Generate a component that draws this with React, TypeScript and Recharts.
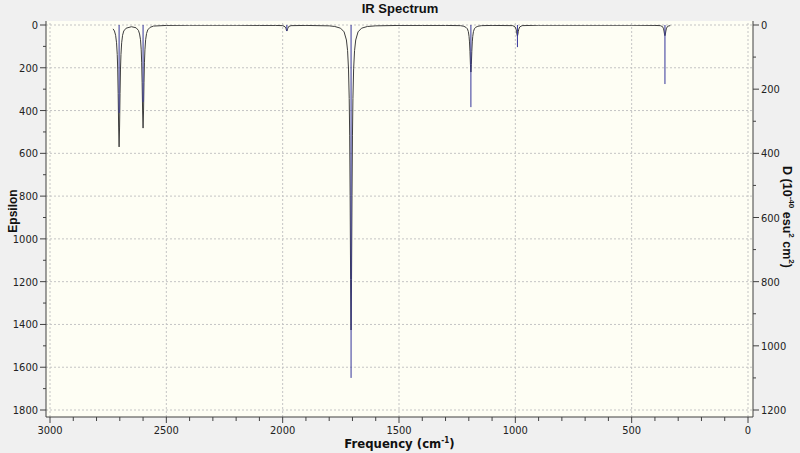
import {
  ComposedChart,
  CartesianGrid,
  Line,
  ReferenceLine,
  XAxis,
  YAxis,
} from "recharts";

// Spectrum curve (Epsilon, left axis)
const curveFreq = [
  2729, 2723, 2718, 2714, 2711, 2709, 2707, 2705, 2703, 2701, 2699, 2697, 2695, 2692, 2688, 2683, 2673,
  2650, 2630, 2620, 2615, 2611, 2608, 2606, 2604, 2602, 2600, 2598, 2596, 2594, 2592, 2589, 2585, 2580,
  2570, 2555, 2500, 2400, 2300, 2200, 2100, 2030, 2000, 1990, 1986, 1984, 1982, 1980, 1978, 1974, 1964,
  1900, 1800, 1776, 1751, 1736, 1726, 1721, 1717, 1714, 1712, 1710, 1708, 1706, 1704, 1702, 1700, 1698,
  1695, 1691, 1686, 1676, 1661, 1636, 1600, 1500, 1400, 1300, 1236, 1221, 1211, 1206, 1202, 1199, 1197,
  1195, 1193, 1191, 1189, 1187, 1185, 1183, 1180, 1176, 1171, 1161, 1146, 1100, 1011, 1001, 997, 995,
  993, 991, 989, 987, 985, 981, 971, 900, 700, 500, 400, 377, 367, 363, 361, 359, 357, 355, 353, 351,
  347, 340, 334,
];
const curveEps = [
  18, 28, 48, 83, 138, 206, 320, 477, 570, 477, 320, 206, 138, 83, 48, 28, 15,
  8, 13, 25, 42, 69, 116, 174, 270, 402, 482, 402, 270, 174, 116, 69, 40, 23,
  11, 5, 2, 1, 1, 1, 2, 2, 3, 8, 16, 23, 28, 23, 16, 7, 3,
  2, 4, 7, 15, 32, 70, 120, 206, 344, 515, 798, 1190, 1426, 1190, 798, 515, 343,
  205, 120, 70, 32, 15, 7, 4, 2, 2, 2, 3, 6, 12, 18, 31, 53, 79,
  123, 184, 220, 184, 123, 79, 53, 31, 18, 11, 6, 3, 2, 3, 9, 19, 29,
  43, 52, 43, 29, 19, 9, 3, 1, 1, 1, 2, 3, 8, 18, 28, 42, 50, 42, 28, 18,
  8, 4, 3,
];

// Stick intensities (D, right axis)
const stickFreq = [2703, 2600, 1982, 1706, 1191, 991, 357];
const stickD = [274, 240, 19, 1100, 256, 69, 184];

const freqTicks = [
  0, 100, 200, 300, 400, 500, 600, 700, 800, 900, 1000, 1100, 1200, 1300, 1400, 1500,
  1600, 1700, 1800, 1900, 2000, 2100, 2200, 2300, 2400, 2500, 2600, 2700, 2800, 2900, 3000,
];
const freqMajor = [0, 500, 1000, 1500, 2000, 2500, 3000];
const epsTicks = [
  0, 100, 200, 300, 400, 500, 600, 700, 800, 900, 1000, 1100, 1200, 1300, 1400, 1500, 1600, 1700, 1800,
];
const epsMajor = [0, 200, 400, 600, 800, 1000, 1200, 1400, 1600, 1800];
const dTicks = [0, 100, 200, 300, 400, 500, 600, 700, 800, 900, 1000, 1100, 1200];

const curveData = curveFreq.map((f, i) => ({ f, eps: curveEps[i] }));
const stickData = stickFreq.flatMap((f, i) => [
  { f, d: 0 },
  { f, d: stickD[i] },
  { f, d: null },
]);

const AXIS = "#404040";
const TICK_FONT = "'Liberation Sans Narrow', 'DejaVu Sans Condensed', Arial, sans-serif";
const GRID = "#c4c4c4";

function XTick({ x, y, payload }: any) {
  const major = payload.value % 500 === 0;
  return (
    <g>
      <line x1={x} x2={x} y1={y} y2={y + (major ? 6 : 4)} stroke={AXIS} />
      {major && (
        <text x={x} y={y + 17} textAnchor="middle" fontSize={11} fontFamily={TICK_FONT} fill="#222">
          {payload.value}
        </text>
      )}
    </g>
  );
}

function LeftTick({ x, y, payload }: any) {
  const major = payload.value % 200 === 0;
  return (
    <g>
      <line x1={x - (major ? 6 : 3)} x2={x} y1={y} y2={y} stroke={AXIS} />
      {major && (
        <text x={x - 8} y={y + 4} textAnchor="end" fontSize={11} fontFamily={TICK_FONT} fill="#222">
          {payload.value}
        </text>
      )}
    </g>
  );
}

function RightTick({ x, y, payload }: any) {
  const major = payload.value % 200 === 0;
  return (
    <g>
      <line x1={x} x2={x + (major ? 6 : 3)} y1={y} y2={y} stroke={AXIS} />
      {major && (
        <text x={x + 8} y={y + 4} textAnchor="start" fontSize={11} fontFamily={TICK_FONT} fill="#222">
          {payload.value}
        </text>
      )}
    </g>
  );
}

function FreqTitle({ viewBox }: any) {
  const cx = viewBox.x + viewBox.width / 2;
  const cy = viewBox.y + 31;
  return (
    <text x={cx} y={cy} textAnchor="middle" fontSize={13} fontWeight="bold" fontFamily={TICK_FONT} fill="#111">
      Frequency (cm<tspan dy={-5} fontSize={8}>-1</tspan>
      <tspan dy={5}>)</tspan>
    </text>
  );
}

function EpsTitle({ viewBox }: any) {
  const cx = viewBox.x + 13;
  const cy = viewBox.y + viewBox.height / 2 - 8;
  return (
    <text
      x={cx}
      y={cy}
      transform={`rotate(-90, ${cx}, ${cy})`}
      textAnchor="middle"
      dominantBaseline="central"
      fontSize={12}
      fontWeight="bold"
      fontFamily="'Liberation Sans', Arial, sans-serif"
      fill="#111"
    >
      Epsilon
    </text>
  );
}

function DTitle({ viewBox }: any) {
  const cx = viewBox.x + 34;
  const cy = viewBox.y + viewBox.height / 2 - 2;
  return (
    <text
      x={cx}
      y={cy}
      transform={`rotate(90, ${cx}, ${cy})`}
      textAnchor="middle"
      dominantBaseline="central"
      fontSize={12.5}
      fontWeight="bold"
      fontFamily="'Liberation Sans', Arial, sans-serif"
      fill="#111"
    >
      D (10<tspan dy={-5} fontSize={8}>-40</tspan>
      <tspan dy={5}> esu</tspan>
      <tspan dy={-5} fontSize={8}>2</tspan>
      <tspan dy={5}> cm</tspan>
      <tspan dy={-5} fontSize={8}>2</tspan>
      <tspan dy={5}>)</tspan>
    </text>
  );
}

export default function App() {
  return (
    <div style={{ position: "relative", width: 800, height: 453, background: "#f0f0f0" }}>
      <style>{`body{margin:0}`}</style>
      <div
        style={{
          position: "absolute",
          top: 0,
          left: 0,
          width: 800,
          textAlign: "center",
          fontFamily: "'Liberation Sans', Arial, sans-serif",
          fontWeight: "bold",
          fontSize: 13,
          lineHeight: "18px",
          color: "#111",
        }}
      >
        IR Spectrum
      </div>
      <ComposedChart width={800} height={453} margin={{ top: 21, right: 0, bottom: 0, left: 0 }}>
        <CartesianGrid fill="#fefef4" stroke="transparent" xAxisId="freq" yAxisId="eps" />
        <XAxis
          xAxisId="freq"
          dataKey="f"
          type="number"
          domain={[0, 3000]}
          reversed
          ticks={freqTicks}
          interval={0}
          padding={{ left: 4, right: 5 }}
          height={36}
          tickSize={0}
          tickMargin={0}
          tick={<XTick />}
          axisLine={{ stroke: AXIS }}
          allowDataOverflow
          label={<FreqTitle />}
        />
        <XAxis
          xAxisId="top"
          orientation="top"
          type="number"
          domain={[0, 3000]}
          reversed
          height={0}
          tick={false}
          tickLine={false}
          axisLine={{ stroke: "#a8a8a8" }}
        />
        <YAxis
          yAxisId="eps"
          type="number"
          domain={[0, 1800]}
          reversed
          ticks={epsTicks}
          interval={0}
          padding={{ top: 4, bottom: 7 }}
          width={46}
          tickSize={0}
          tickMargin={0}
          tick={<LeftTick />}
          axisLine={{ stroke: AXIS }}
          allowDataOverflow
          label={<EpsTitle />}
        />
        <YAxis
          yAxisId="d"
          orientation="right"
          type="number"
          domain={[0, 1200]}
          reversed
          ticks={dTicks}
          interval={0}
          padding={{ top: 4, bottom: 7 }}
          width={47}
          tickSize={0}
          tickMargin={0}
          tick={<RightTick />}
          axisLine={{ stroke: AXIS }}
          allowDataOverflow
          label={<DTitle />}
        />
        {freqMajor.map((v) => (
          <ReferenceLine key={`fx${v}`} x={v} xAxisId="freq" yAxisId="eps" stroke={GRID} strokeDasharray="2 2" />
        ))}
        {epsMajor.map((v) => (
          <ReferenceLine key={`ey${v}`} y={v} xAxisId="freq" yAxisId="eps" stroke={GRID} strokeDasharray="2 2" />
        ))}
        <Line
          data={curveData}
          xAxisId="freq"
          yAxisId="eps"
          dataKey="eps"
          type="linear"
          stroke="#3e3e3e"
          strokeWidth={1}
          dot={false}
          isAnimationActive={false}
        />
        <Line
          data={stickData}
          xAxisId="freq"
          yAxisId="d"
          dataKey="d"
          type="linear"
          stroke="#34349a"
          strokeWidth={1}
          dot={false}
          connectNulls={false}
          isAnimationActive={false}
        />
      </ComposedChart>
    </div>
  );
}
